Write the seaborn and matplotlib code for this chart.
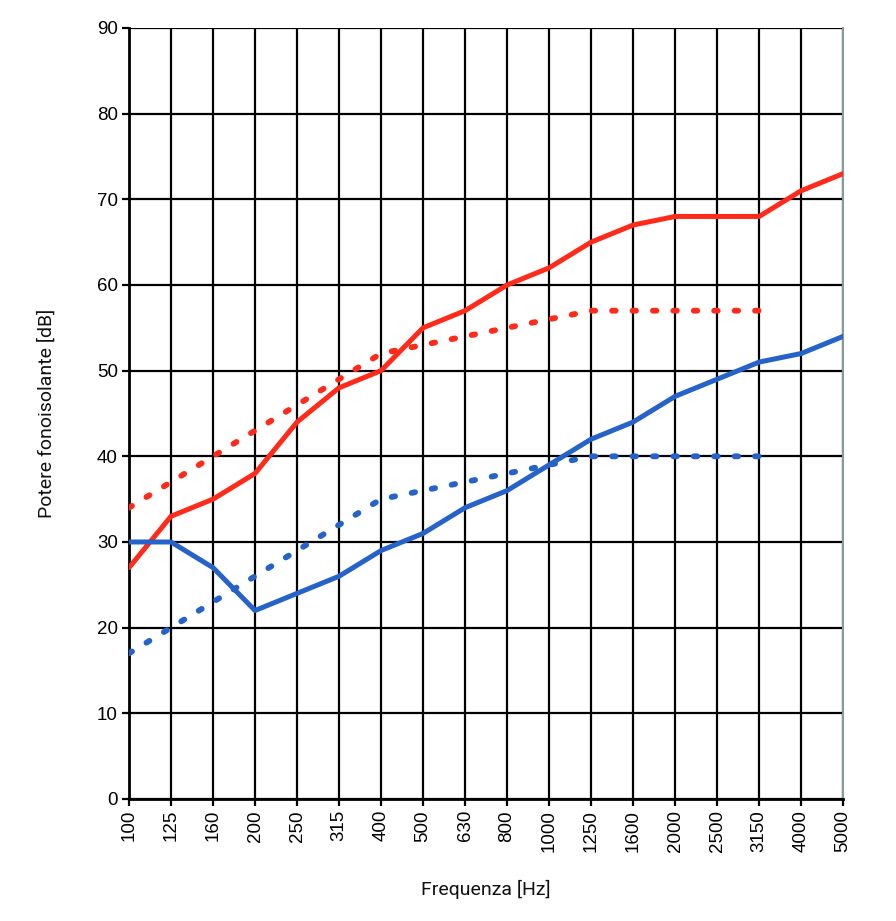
import numpy as np
import pandas as pd
import matplotlib
matplotlib.use("Agg")
import matplotlib.pyplot as plt
import seaborn as sns

# ── Dati ──────────────────────────────────────────────────────────────────────
frequenze = ["100", "125", "160", "200", "250", "315", "400", "500", "630",
             "800", "1000", "1250", "1600", "2000", "2500", "3150", "4000", "5000"]

rosso_pieno = [27, 33, 35, 38, 44, 48, 50, 55, 57, 60, 62, 65, 67, 68, 68, 68, 71, 73]
rosso_punti = [34, 37, 40, 43, 46, 49, 52, 53, 54, 55, 56, 57, 57, 57, 57, 57]
blu_pieno   = [30, 30, 27, 22, 24, 26, 29, 31, 34, 36, 39, 42, 44, 47, 49, 51, 52, 54]
blu_punti   = [17, 20, 23, 26, 29, 32, 35, 36, 37, 38, 39, 40, 40, 40, 40, 40]

ROSSO = "#FF2A1A"
BLU = "#2563C8"

sns.set_theme(style="white")
plt.rcParams["font.family"] = ["Liberation Sans", "DejaVu Sans"]

fig = plt.figure(figsize=(8.96, 9.21), dpi=100)
ax = fig.add_axes([0.144, 0.1325, 0.797, 0.8371])

pos = np.arange(len(frequenze))

def serie(valori, colore, punti=False):
    x = pos[:len(valori)]
    if punti:
        sns.lineplot(x=x, y=valori, color=colore, lw=4.2, ax=ax,
                     zorder=3, linestyle=(0, (0.6, 2.9)),
                     dash_capstyle="round")
    else:
        sns.lineplot(x=x, y=valori, color=colore, lw=3.6, ax=ax, zorder=4)

serie(rosso_punti, ROSSO, punti=True)
serie(blu_punti, BLU, punti=True)
serie(rosso_pieno, ROSSO)
serie(blu_pieno, BLU)

ax.set_xlim(0, len(frequenze) - 1)
ax.set_ylim(0, 90)
ax.set_xticks(pos)
ax.set_xticklabels(frequenze, rotation=90, fontsize=13.5)
ax.set_yticks(np.arange(0, 91, 10))
ax.set_yticklabels([str(v) for v in range(0, 91, 10)], fontsize=13.5)

ax.grid(True, color="black", lw=1.6, zorder=1)
ax.set_axisbelow(True)
ax.tick_params(axis="both", direction="out", length=5, width=1.6, color="black",
               bottom=True, left=True, pad=3, labelcolor="black")

for lato in ["left", "bottom"]:
    ax.spines[lato].set_color("black")
    ax.spines[lato].set_linewidth(2)
ax.spines["top"].set_visible(False)
ax.spines["right"].set_color("#8A9A9A")
ax.spines["right"].set_linewidth(1.5)

ax.set_xlabel("Frequenza [Hz]", fontsize=14, family="Roboto",
              color="#111111", labelpad=20)
ax.set_ylabel("Potere fonoisolante [dB]", fontsize=14, family="Roboto",
              color="#111111", labelpad=30)

fig.savefig("out.png", dpi=100)
